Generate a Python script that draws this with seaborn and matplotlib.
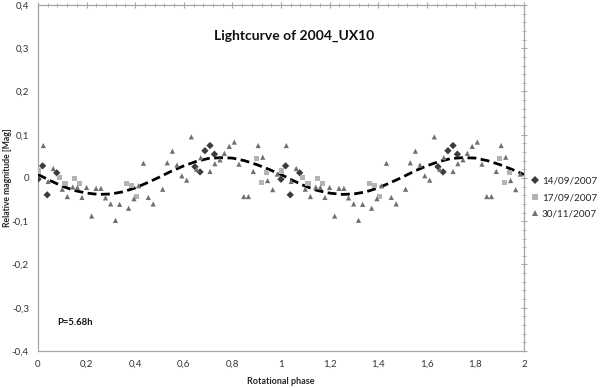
import numpy as np
import pandas as pd
import matplotlib
matplotlib.use("Agg")
import matplotlib.pyplot as plt
import seaborn as sns
from matplotlib.ticker import MultipleLocator, FuncFormatter

# ---- data (phase 0..1, shown twice: phase and phase+1) ----
d1409_phase = [0.000, 0.019, 0.038, 0.077, 0.646, 0.667, 0.687, 0.708, 0.726]
d1409_mag = [-0.003, 0.028, -0.039, 0.012, 0.026, 0.014, 0.063, 0.075, 0.055]

d1709_phase = [0.003, 0.090, 0.111, 0.149, 0.170, 0.365, 0.386, 0.404, 0.898, 0.919, 0.940]
d1709_mag = [0.016, 0.001, -0.012, -0.002, -0.012, -0.012, -0.018, -0.043, 0.045, -0.011, 0.012]

d3011_phase = [0.022, 0.042, 0.063, 0.100, 0.121, 0.143, 0.162, 0.181, 0.200, 0.221,
               0.239, 0.259, 0.278, 0.299, 0.319, 0.336, 0.373, 0.395, 0.414, 0.434,
               0.454, 0.474, 0.513, 0.532, 0.553, 0.572, 0.592, 0.612, 0.631, 0.653,
               0.670, 0.708, 0.728, 0.749, 0.767, 0.787, 0.808, 0.827, 0.847, 0.866,
               0.886, 0.906, 0.925, 0.945, 0.966, 0.985]
d3011_mag = [0.075, -0.008, 0.022, -0.026, -0.043, -0.021, -0.022, -0.045, -0.022, -0.088,
             -0.024, -0.024, -0.046, -0.060, -0.098, -0.061, -0.070, -0.048, -0.018, 0.034,
             -0.045, -0.060, -0.026, 0.035, 0.062, 0.030, 0.005, -0.005, 0.095, 0.020,
             0.047, 0.015, 0.033, 0.042, 0.057, 0.073, 0.083, 0.032, -0.043, -0.043,
             0.015, 0.075, 0.048, -0.006, -0.027, 0.009]

fit_phase = [0.00, 0.05, 0.10, 0.15, 0.20, 0.25, 0.30, 0.35, 0.40, 0.45, 0.50,
             0.55, 0.60, 0.65, 0.70, 0.75, 0.80, 0.85, 0.90, 0.95, 1.00]
fit_mag = [0.008, -0.006, -0.019, -0.029, -0.035, -0.038, -0.037, -0.032, -0.023, -0.011, 0.002,
           0.016, 0.028, 0.038, 0.045, 0.047, 0.046, 0.040, 0.031, 0.020, 0.008]

series_labels = ["14/09/2007", "17/09/2007", "30/11/2007"]

# ---- build tables ----
rows = []
for lab, ph, mg in zip(series_labels,
                       [d1409_phase, d1709_phase, d3011_phase],
                       [d1409_mag, d1709_mag, d3011_mag]):
    for shift in (0.0, 1.0):
        for p, m in zip(ph, mg):
            rows.append({"phase": p + shift, "mag": m, "date": lab})
df = pd.DataFrame(rows)

fit_df = pd.DataFrame({
    "phase": list(fit_phase) + [p + 1.0 for p in fit_phase[1:]],
    "mag": list(fit_mag) + list(fit_mag[1:]),
})

sns.set_style("white")
plt.rcParams["font.family"] = ["Lato", "DejaVu Sans"]

fig = plt.figure(figsize=(6.0, 3.88), dpi=100)
ax = fig.add_axes([0.0633, 0.0954, 0.8100, 0.8918])

palette = {"14/09/2007": "#3c3c3c", "17/09/2007": "#b4b4b4", "30/11/2007": "#707070"}
markers = {"14/09/2007": "D", "17/09/2007": "s", "30/11/2007": "^"}

sns.lineplot(data=fit_df, x="phase", y="mag", ax=ax, color="black",
             linestyle=(0, (3.2, 1.6)), linewidth=2.0, zorder=3, legend=False)
sns.scatterplot(data=df, x="phase", y="mag", hue="date", style="date",
                palette=palette, markers=markers, s=14, linewidth=0,
                ax=ax, zorder=4, hue_order=series_labels, style_order=series_labels)

handles, labels = ax.get_legend_handles_labels()
if ax.get_legend() is not None:
    ax.get_legend().remove()

ax.set_xlim(0, 2)
ax.set_ylim(-0.4, 0.4)
ax.xaxis.set_major_locator(MultipleLocator(0.2))
ax.xaxis.set_minor_locator(MultipleLocator(0.04))
ax.yaxis.set_major_locator(MultipleLocator(0.1))
ax.yaxis.set_minor_locator(MultipleLocator(0.02))

def comma_fmt(v, pos):
    if abs(v) < 1e-9:
        return "0"
    s = ("%.1f" % v).rstrip("0").rstrip(".")
    return s.replace(".", ",")

ax.xaxis.set_major_formatter(FuncFormatter(comma_fmt))
ax.yaxis.set_major_formatter(FuncFormatter(comma_fmt))

spine_col = "#a6a6a6"
for sp in ax.spines.values():
    sp.set_visible(True)
    sp.set_color(spine_col)
    sp.set_linewidth(0.9)

ax.tick_params(which="both", direction="inout", color=spine_col,
               top=True, right=True, labelsize=7, labelcolor="#333333")
ax.tick_params(which="major", length=5, width=0.8, pad=4)
ax.tick_params(which="minor", length=3, width=0.6)

ax.set_xlabel("Rotational phase", fontsize=6.5, fontweight="bold")
ax.xaxis.set_label_coords(0.5, -0.074)
ax.set_ylabel("Relative magnitude [Mag]", fontsize=6.2, fontweight="bold")
ax.yaxis.set_label_coords(-0.053, 0.5)

ax.text(0.527, 0.912, "Lightcurve of 2004_UX10", transform=ax.transAxes,
        ha="center", va="center", fontsize=10, fontweight="bold", color="#111111")
ax.text(0.039, 0.083, "P=5.68h", transform=ax.transAxes,
        ha="left", va="center", fontsize=6.8, fontweight="bold", color="#111111")

fig.legend(handles, labels, loc="upper left", bbox_to_anchor=(0.884, 0.544),
           frameon=False, fontsize=7.2, handletextpad=0.15, labelspacing=0.75,
           markerscale=1.0, borderaxespad=0.0, borderpad=0.0, handlelength=1.0)

fig.savefig("out.png", dpi=100)
